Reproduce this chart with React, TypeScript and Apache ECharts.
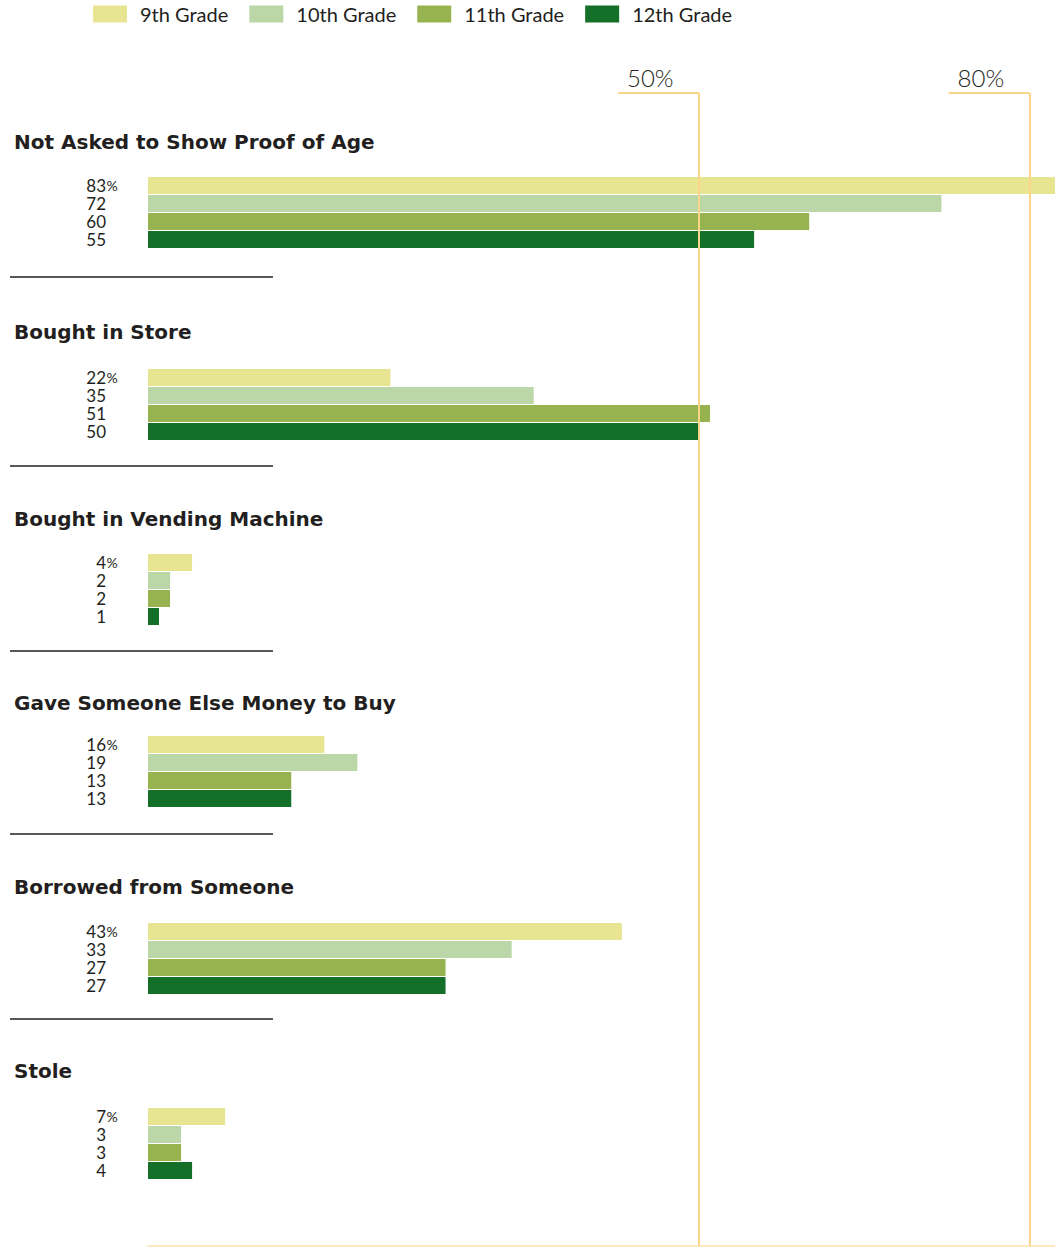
import React, { useEffect, useRef } from "react";
import * as echarts from "echarts";

const categories = [
  "Not Asked to Show Proof of Age",
  "Bought in Store",
  "Bought in Vending Machine",
  "Gave Someone Else Money to Buy",
  "Borrowed from Someone",
  "Stole",
];
const gradeNames = ["9th Grade", "10th Grade", "11th Grade", "12th Grade"];
const grade9 = [83, 22, 4, 16, 43, 7];
const grade10 = [72, 35, 2, 19, 33, 3];
const grade11 = [60, 51, 2, 13, 27, 3];
const grade12 = [55, 50, 1, 13, 27, 4];
const referenceValues = [50, 80];
const referenceLabels = ["50%", "80%"];

const gradeColors = ["#e8e592", "#bbd7a7", "#97b350", "#146f29"];
const FONT = "Lato";
const TITLE_FONT = "DejaVu Sans";

export default function App() {
  const ref = useRef<HTMLDivElement>(null);
  useEffect(() => {
    if (!ref.current) return;
    const chart = echarts.init(ref.current, null, { renderer: "svg" });
    const gradeValues = [grade9, grade10, grade11, grade12];
    const X_MAX = (1055 - 148) / (551 / 50);
    const barTops = [176.5, 368.5, 553.5, 735.5, 922.5, 1107.5];
    const titleTops = [132, 322, 509, 693, 877, 1061];
    const sepYs = [277, 466, 651, 834, 1019];

    const grids: any[] = [];
    const xAxes: any[] = [];
    const yAxes: any[] = [];
    const series: any[] = [];
    categories.forEach((cat, g) => {
      grids.push({ left: 148, right: 0, top: barTops[g], height: 72 });
      xAxes.push({ type: "value", gridIndex: g, min: 0, max: X_MAX, show: false });
      yAxes.push({ type: "category", gridIndex: g, data: gradeNames, inverse: true, show: false });
      gradeNames.forEach((gn, k) => {
        const data = gradeNames.map((_, i) => (i === k ? gradeValues[k][g] : "-"));
        series.push({
          type: "bar",
          name: gn,
          xAxisIndex: g,
          yAxisIndex: g,
          stack: "grp" + g,
          barWidth: 17,
          data,
          itemStyle: { color: gradeColors[k] },
          label: {
            show: true,
            position: "left",
            distance: 30,
            formatter: (p: any) => (k === 0 ? `{v|${p.value}}{p|%}` : `{v|${p.value}}{s| }`),
            rich: {
              v: { fontFamily: FONT, fontSize: 17, color: "#231f20", lineHeight: 16 },
              p: { fontFamily: FONT, fontSize: 14, color: "#231f20", width: 12, align: "left", lineHeight: 16 },
              s: { fontFamily: FONT, fontSize: 14, width: 12, lineHeight: 16 },
            },
          },
        });
      });
    });

    // overlay grid for reference lines
    const oi = categories.length;
    grids.push({ left: 148, right: 0, top: 93, bottom: 1 });
    xAxes.push({
      type: "value",
      gridIndex: oi,
      min: 0,
      max: X_MAX,
      axisLine: { show: true, lineStyle: { color: "#fde9c0", width: 2 } },
      axisTick: { show: false },
      axisLabel: { show: false },
      splitLine: { show: false },
    });
    yAxes.push({ type: "value", gridIndex: oi, min: 0, max: 1, show: false });
    const bracket = 7.35;
    const mlData: any[] = [];
    referenceValues.forEach((v, i) => {
      mlData.push([{ coord: [v, 1] }, { coord: [v, 0] }]);
      mlData.push([
        {
          coord: [v - bracket, 1],
          label: {
            show: true,
            position: "insideStartTop",
            formatter: referenceLabels[i],
            fontFamily: FONT,
            fontSize: 24,
            fontWeight: 300,
            color: "#231f20",
            distance: [9, 4],
          },
        },
        { coord: [v, 1] },
      ]);
    });
    series.push({
      type: "line",
      xAxisIndex: oi,
      yAxisIndex: oi,
      data: [],
      silent: true,
      markLine: {
        silent: true,
        symbol: ["none", "none"],
        lineStyle: { color: "#fbd68a", width: 2, type: "solid" },
        label: { show: false },
        emphasis: { disabled: true },
        data: mlData,
      },
    });

    const graphics: any[] = [];
    categories.forEach((cat, g) => {
      graphics.push({
        type: "text",
        left: 14,
        top: titleTops[g],
        style: { text: cat, font: `bold 20px "${TITLE_FONT}"`, fill: "#231f20" },
      });
    });
    sepYs.forEach((y) => {
      graphics.push({
        type: "line",
        shape: { x1: 10, y1: y, x2: 273, y2: y },
        style: { stroke: "#231f20", lineWidth: 1.5 },
      });
    });

    chart.setOption({
      animation: false,
      legend: {
        data: gradeNames,
        top: 4,
        left: 93,
        padding: 0,
        itemWidth: 34,
        itemHeight: 17,
        itemGap: 21,
        icon: "rect",
        textStyle: { fontFamily: FONT, fontSize: 20, color: "#231f20", padding: [0, 0, 0, 8] },
      },
      grid: grids,
      xAxis: xAxes,
      yAxis: yAxes,
      series,
      graphic: graphics,
    });
    return () => chart.dispose();
  }, []);
  return (
    <div
      ref={ref}
      style={{ position: "absolute", left: 0, top: 0, width: 1055, height: 1247, background: "#fff" }}
    />
  );
}
